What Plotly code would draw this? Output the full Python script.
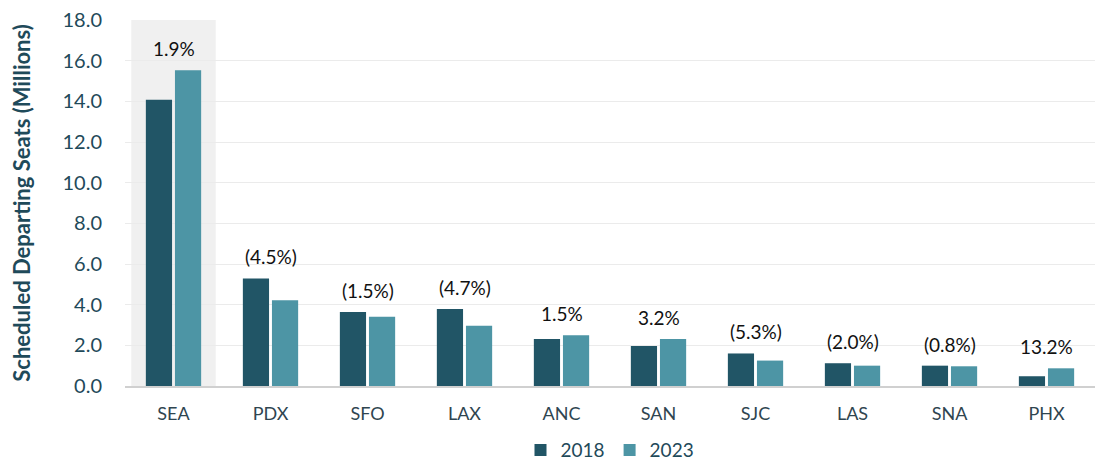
import plotly.graph_objects as go

airports = ["SEA", "PDX", "SFO", "LAX", "ANC", "SAN", "SJC", "LAS", "SNA", "PHX"]
seats_2018 = [14.08, 5.29, 3.64, 3.79, 2.31, 1.97, 1.60, 1.12, 1.00, 0.48]
seats_2023 = [15.53, 4.22, 3.40, 2.96, 2.49, 2.31, 1.25, 1.00, 0.97, 0.87]
growth_labels = ["1.9%", "(4.5%)", "(1.5%)", "(4.7%)", "1.5%", "3.2%", "(5.3%)", "(2.0%)", "(0.8%)", "13.2%"]
y_ticks = [0, 2, 4, 6, 8, 10, 12, 14, 16, 18]

FONT = "Lato, 'Open Sans', sans-serif"
LIGHT = "#4d95a5"
TEXT = "#1f4a5a"

fig = go.Figure()
fig.add_trace(go.Bar(name="2018", x=airports, y=seats_2018, marker_color="#215566",
                     marker_line_width=0))
fig.add_trace(go.Bar(name="2023", x=airports, y=seats_2023, marker_color=LIGHT,
                     marker_line_width=0))

# highlight band behind SEA
fig.add_shape(type="rect", xref="x", yref="paper", x0=-0.435, x1=0.435, y0=0, y1=1,
              fillcolor="#f0f0f0", line_width=0, layer="below")

for a, v1, v2, lab in zip(airports, seats_2018, seats_2023, growth_labels):
    fig.add_annotation(x=a, y=max(v1, v2), text=lab, showarrow=False,
                       yanchor="bottom", yshift=8,
                       font=dict(family=FONT, size=19, color="#111111"))

# page body adds an 8px offset, so the figure is sized to fit the window
fig.update_layout(
    width=1099, height=456,
    margin=dict(l=117, r=12, t=12, b=78, autoexpand=False),
    paper_bgcolor="white", plot_bgcolor="white",
    barmode="group", bargap=0.4, bargroupgap=0.1,
    font=dict(family=FONT, color=TEXT),
    legend=dict(orientation="h", x=0.5, xanchor="center", y=-0.175, yanchor="middle",
                font=dict(size=19, color=TEXT), traceorder="normal",
                itemwidth=30),
    showlegend=True,
)
fig.update_xaxes(showgrid=False, showline=True, linecolor="#d0d0d0", linewidth=2,
                 tickfont=dict(size=18, color="#2f4550"), ticks="",
                 ticklabelstandoff=10, automargin=False)
fig.update_yaxes(range=[0, 18], tickvals=y_ticks,
                 ticktext=[f"{t:.1f}" for t in y_ticks],
                 showgrid=True, gridcolor="#ebebeb", gridwidth=1, zeroline=False,
                 tickfont=dict(size=20, color=TEXT), ticklabelstandoff=22,
                 automargin=False, ticklabeloverflow="allow",
                 title=dict(text="<b>Scheduled Departing Seats (Millions)</b>",
                            font=dict(size=22, color=TEXT), standoff=33))

fig.write_html("out.html")
